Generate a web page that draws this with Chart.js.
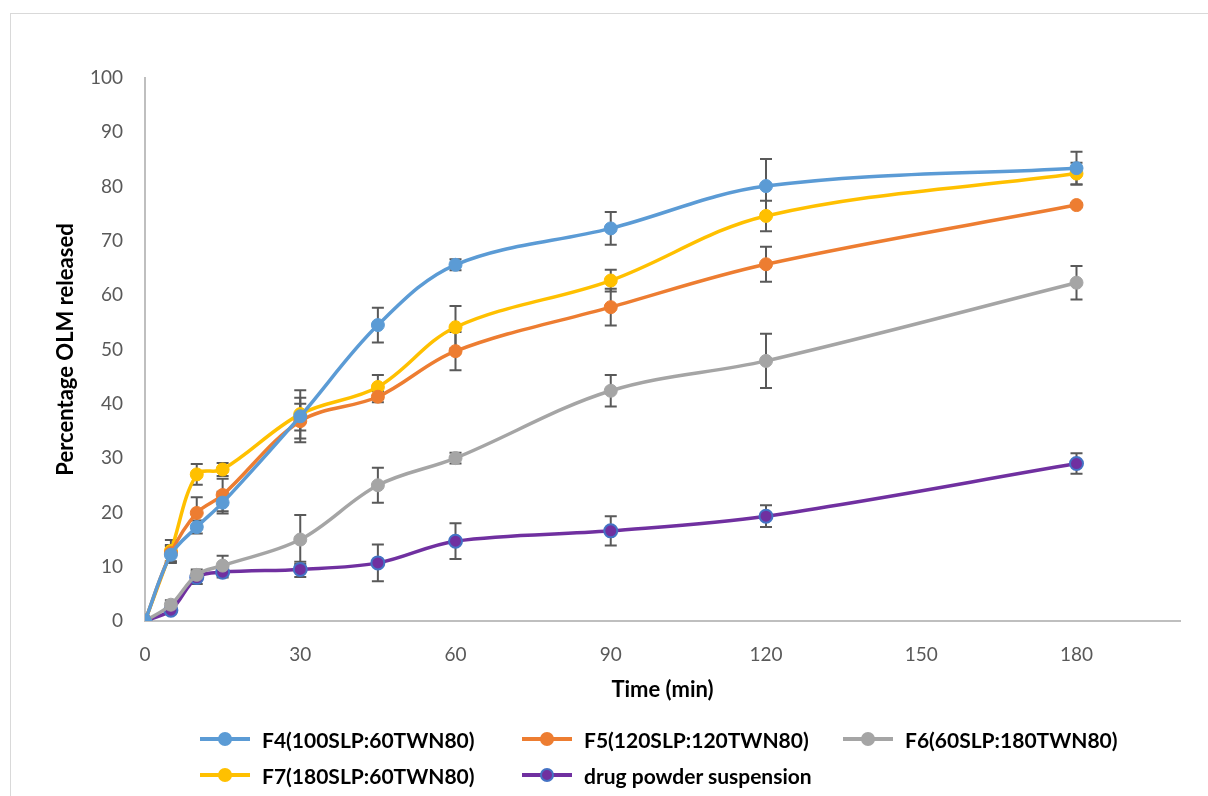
<!DOCTYPE html>
<html>
<head>
<meta charset="utf-8">
<script src="https://cdn.jsdelivr.net/npm/chart.js@4"></script>
<style>
  html, body { margin: 0; padding: 0; background: #fff; }
  #wrap { position: relative; width: 1208px; height: 796px; overflow: hidden; }
  #frame { position: absolute; left: 10px; top: 13px; width: 1220px; height: 820px; border: 1px solid #d9d9d9; box-sizing: border-box; }
  #c { position: absolute; left: 0; top: 0; }
  #legend { position: absolute; left: 0; top: 0; width: 1208px; height: 796px; pointer-events: none;
            font-family: Lato, "Open Sans", sans-serif; font-weight: bold; font-size: 21px; color: #000; }
  .item { position: absolute; display: flex; align-items: center; white-space: nowrap; }
  .sw { position: relative; width: 50px; height: 16px; margin-right: 12px; }
  .sw .ln { position: absolute; left: 0; right: 0; top: 6px; height: 4px; }
  .sw .pt { position: absolute; left: 18px; top: 1px; width: 14px; height: 14px; border-radius: 50%; box-sizing: border-box; }
</style>
</head>
<body>
<div id="wrap">
  <div id="frame"></div>
  <canvas id="c" width="1208" height="796"></canvas>
  <div id="legend"></div>
</div>
<script>
// ---- data ----
const times = [0, 5, 10, 15, 30, 45, 60, 90, 120, 180];
const xTicks = [0, 30, 60, 90, 120, 150, 180];
const seriesNames = ["F4(100SLP:60TWN80)", "F5(120SLP:120TWN80)", "F6(60SLP:180TWN80)", "F7(180SLP:60TWN80)", "drug powder suspension"];
const f4 = [0, 12.2, 17.3, 21.8, 37.7, 54.5, 65.6, 72.3, 80.1, 83.4];
const f5 = [0, 12.5, 19.9, 23.2, 36.8, 41.3, 49.7, 57.8, 65.7, 76.6];
const f6 = [0, 3.0, 8.5, 10.2, 15.0, 25.0, 30.0, 42.4, 47.9, 62.3];
const f7 = [0, 12.9, 27.0, 27.9, 38.1, 43.1, 54.1, 62.7, 74.6, 82.4];
const drug = [0, 2.0, 8.0, 9.0, 9.5, 10.7, 14.7, 16.6, 19.3, 29.0];
const f4Err = [0, 1.5, 1.2, 2.0, 4.8, 3.2, 1.0, 3.0, 5.0, 3.0];
const f5Err = [0, 1.5, 2.9, 3.0, 3.2, 1.0, 3.5, 3.4, 3.2, 0.4];
const f6Err = [0, 0.8, 1.0, 1.8, 4.5, 3.2, 1.0, 2.9, 5.0, 3.1];
const f7Err = [0, 2.0, 1.9, 1.2, 3.0, 2.2, 3.9, 2.0, 2.8, 2.0];
const drugErr = [0, 0.6, 1.2, 1.0, 1.4, 3.4, 3.3, 2.7, 2.0, 1.9];

const colors = ["#5B9BD5", "#ED7D31", "#A5A5A5", "#FFC000", "#7030A0"];
const borders = ["#5B9BD5", "#ED7D31", "#A5A5A5", "#FFC000", "#4472C4"];
const values = [f4, f5, f6, f7, drug];
const errs = [f4Err, f5Err, f6Err, f7Err, drugErr];

const FONT = 'Lato, "Open Sans", sans-serif';

const datasets = values.map((vals, i) => ({
  label: seriesNames[i],
  data: times.map((t, j) => ({ x: t, y: vals[j] })),
  errors: errs[i],
  borderColor: colors[i],
  backgroundColor: colors[i],
  pointBackgroundColor: colors[i],
  pointBorderColor: borders[i],
  pointBorderWidth: i === 4 ? 2 : 1,
  pointRadius: 6.5,
  pointHoverRadius: 6.5,
  borderWidth: 3.5,
  tension: 0.35,
  fill: false
}));

const errorBars = {
  id: 'errorBars',
  beforeDatasetsDraw(chart) {
    const ctx = chart.ctx;
    const xs = chart.scales.x, ys = chart.scales.y;
    ctx.save();
    ctx.strokeStyle = '#595959';
    ctx.lineWidth = 2;
    chart.data.datasets.forEach(ds => {
      ds.data.forEach((p, j) => {
        const e = ds.errors[j];
        if (!e) return;
        const x = xs.getPixelForValue(p.x);
        const y1 = ys.getPixelForValue(p.y + e);
        const y2 = ys.getPixelForValue(p.y - e);
        ctx.beginPath();
        ctx.moveTo(x, y1); ctx.lineTo(x, y2);
        ctx.moveTo(x - 6, y1); ctx.lineTo(x + 6, y1);
        ctx.moveTo(x - 6, y2); ctx.lineTo(x + 6, y2);
        ctx.stroke();
      });
    });
    ctx.restore();
  }
};

new Chart(document.getElementById('c'), {
  type: 'line',
  data: { datasets },
  plugins: [errorBars],
  options: {
    responsive: false,
    animation: false,
    layout: { padding: { left: 53, right: 28, top: 78, bottom: 0 } },
    plugins: { legend: { display: false }, tooltip: { enabled: false } },
    scales: {
      x: {
        type: 'linear', min: 0, max: 200,
        afterBuildTicks: s => { s.ticks = xTicks.map(v => ({ value: v })); },
        afterFit: s => { s.height = 796 - 621; },
        grid: { display: false, drawTicks: false },
        border: { color: '#bfbfbf', width: 2 },
        ticks: { color: '#595959', font: { family: FONT, size: 19 }, padding: 22, maxRotation: 0 },
        title: { display: true, text: 'Time (min)', color: '#000', font: { family: FONT, size: 22, weight: 'bold' }, padding: { top: 0, bottom: 93 } }
      },
      y: {
        min: 0, max: 100,
        ticks: { stepSize: 10, color: '#595959', font: { family: FONT, size: 19 }, padding: 22 },
        afterFit: s => { s.width = 145 - 53; },
        grid: { display: false, drawTicks: false },
        border: { color: '#bfbfbf', width: 2 },
        title: { display: true, text: 'Percentage OLM released', color: '#000', font: { family: FONT, size: 22, weight: 'bold' }, padding: { top: 0, bottom: 0 } }
      }
    }
  }
});

// HTML legend built from the series names/colours
const legendPos = [[200, 739], [522, 739], [843, 739], [200, 775], [522, 775]];
const lg = document.getElementById('legend');
seriesNames.forEach((name, i) => {
  const it = document.createElement('div');
  it.className = 'item';
  it.style.left = legendPos[i][0] + 'px';
  it.style.top = (legendPos[i][1] - 12) + 'px';
  it.style.height = '24px';
  it.innerHTML = '<div class="sw"><div class="ln" style="background:' + colors[i] + '"></div>' +
    '<div class="pt" style="background:' + colors[i] + ';border:' + (i === 4 ? 2 : 0) + 'px solid ' + borders[i] + '"></div></div>' +
    '<span>' + name + '</span>';
  lg.appendChild(it);
});
</script>
</body>
</html>
